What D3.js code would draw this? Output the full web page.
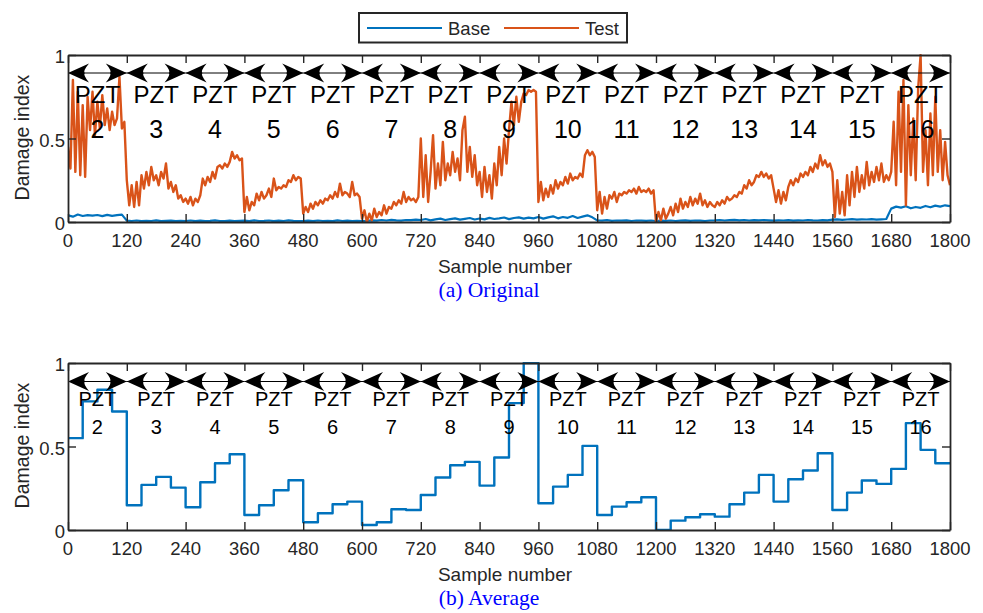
<!DOCTYPE html>
<html>
<head>
<meta charset="utf-8">
<script src="https://cdn.jsdelivr.net/npm/d3@7"></script>
<style>
  html, body { margin: 0; padding: 0; background: #fff; }
  svg { display: block; }
  text { font-family: "Liberation Sans", Arial, Helvetica, sans-serif; }
</style>
</head>
<body>
<svg id="chart" width="983" height="613"></svg>
<script>
// ---- data ----
const sampleTicks = [0, 120, 240, 360, 480, 600, 720, 840, 960, 1080, 1200, 1320, 1440, 1560, 1680, 1800];
const damageTicks = [0, 0.5, 1];
const pztIds = [2, 3, 4, 5, 6, 7, 8, 9, 10, 11, 12, 13, 14, 15, 16];
const segmentSize = 120;

// Test damage index, one reading every 5 samples (0 ... 1800)
const testStep = 5;
const testValues = [
  0.45,0.32,0.85,0.30,0.78,0.28,0.70,0.27,0.75,0.55,0.78,0.52,0.72,0.56,0.76,0.58,0.68,0.55,0.66,0.58,0.62,0.87,0.56,0.60,
  0.25,0.10,0.22,0.09,0.24,0.10,0.28,0.20,0.30,0.22,0.33,0.25,0.28,0.22,0.30,0.26,0.35,0.20,0.24,0.18,0.22,0.14,0.16,0.12,
  0.14,0.11,0.15,0.10,0.14,0.12,0.16,0.26,0.22,0.27,0.24,0.30,0.26,0.33,0.34,0.32,0.35,0.33,0.36,0.42,0.38,0.40,0.37,0.38,
  0.06,0.15,0.07,0.12,0.10,0.17,0.13,0.18,0.14,0.16,0.20,0.15,0.26,0.19,0.21,0.20,0.22,0.21,0.25,0.24,0.28,0.25,0.27,0.26,
  0.05,0.09,0.06,0.11,0.08,0.12,0.10,0.13,0.11,0.14,0.13,0.16,0.14,0.18,0.15,0.23,0.16,0.18,0.17,0.15,0.24,0.16,0.17,0.15,
  0.02,0.07,0.00,0.05,0.01,0.08,0.03,0.06,0.04,0.10,0.05,0.09,0.08,0.12,0.10,0.13,0.11,0.18,0.12,0.15,0.13,0.14,0.12,0.15,
  0.50,0.15,0.40,0.12,0.30,0.52,0.20,0.35,0.22,0.48,0.25,0.35,0.28,0.42,0.30,0.38,0.25,0.55,0.63,0.30,0.45,0.27,0.40,0.22,
  0.30,0.15,0.33,0.18,0.28,0.14,0.35,0.22,0.45,0.28,0.50,0.35,0.55,0.72,0.58,0.75,0.60,0.72,0.77,0.76,0.79,0.78,0.79,0.78,
  0.12,0.24,0.13,0.20,0.15,0.22,0.17,0.25,0.20,0.24,0.22,0.27,0.23,0.29,0.25,0.27,0.26,0.29,0.27,0.40,0.43,0.40,0.42,0.39,
  0.07,0.18,0.05,0.15,0.08,0.16,0.14,0.18,0.12,0.17,0.16,0.18,0.17,0.19,0.18,0.20,0.17,0.21,0.18,0.19,0.18,0.20,0.17,0.19,
  0.00,0.06,0.01,0.08,0.02,0.05,0.09,0.04,0.11,0.06,0.14,0.08,0.12,0.09,0.15,0.10,0.14,0.11,0.17,0.10,0.13,0.09,0.12,0.10,
  0.09,0.12,0.10,0.13,0.11,0.15,0.13,0.14,0.16,0.15,0.18,0.17,0.22,0.20,0.25,0.22,0.24,0.28,0.27,0.30,0.27,0.29,0.26,0.28,
  0.20,0.12,0.19,0.11,0.18,0.13,0.21,0.25,0.22,0.26,0.24,0.29,0.27,0.30,0.28,0.33,0.30,0.35,0.32,0.40,0.34,0.37,0.33,0.35,
  0.30,0.03,0.25,0.05,0.18,0.04,0.28,0.10,0.30,0.15,0.33,0.18,0.28,0.20,0.36,0.22,0.30,0.24,0.33,0.25,0.35,0.24,0.28,0.25,
  0.30,0.60,0.22,0.78,0.30,0.85,0.10,0.70,0.28,0.62,0.25,0.80,1.00,0.30,0.55,0.22,0.65,0.28,0.75,0.30,0.55,0.25,0.48,0.28,
  0.22
];

// Base damage index, one reading every 10 samples (0 ... 1800)
const baseStep = 10;
const baseValues = [
  0.040,0.032,0.045,0.036,0.041,0.038,0.042,0.035,0.043,0.037,0.041,0.044,
  0.008,0.006,0.009,0.005,0.007,0.006,0.010,0.005,0.007,0.008,0.005,0.007,
  0.006,0.009,0.005,0.008,0.006,0.007,0.010,0.006,0.005,0.008,0.006,0.007,
  0.008,0.005,0.010,0.006,0.007,0.009,0.005,0.008,0.006,0.010,0.007,0.006,
  0.006,0.008,0.005,0.009,0.006,0.007,0.005,0.010,0.006,0.008,0.005,0.007,
  0.005,0.007,0.010,0.008,0.012,0.009,0.013,0.010,0.008,0.012,0.011,0.014,
  0.012,0.018,0.010,0.016,0.020,0.012,0.017,0.022,0.014,0.019,0.024,0.015,
  0.021,0.016,0.025,0.018,0.022,0.027,0.017,0.024,0.028,0.020,0.026,0.022,
  0.030,0.020,0.028,0.034,0.022,0.030,0.025,0.036,0.024,0.032,0.040,0.028,
  0.010,0.008,0.011,0.007,0.009,0.008,0.010,0.006,0.009,0.008,0.007,0.009,
  0.006,0.008,0.007,0.009,0.006,0.008,0.010,0.007,0.009,0.008,0.006,0.009,
  0.010,0.012,0.009,0.011,0.013,0.010,0.012,0.009,0.011,0.010,0.012,0.010,
  0.008,0.010,0.009,0.011,0.008,0.010,0.009,0.012,0.010,0.009,0.011,0.010,
  0.014,0.016,0.013,0.015,0.017,0.014,0.016,0.015,0.017,0.014,0.016,0.018,
  0.080,0.092,0.086,0.094,0.082,0.090,0.085,0.096,0.088,0.098,0.092,0.100,0.095
];

// Averaged damage index, one value per block of 30 samples
const avgStep = 30;
const avgValues = [
  0.55, 0.77, 0.84, 0.71,
  0.148, 0.27, 0.318, 0.254,
  0.136, 0.286, 0.40, 0.454,
  0.09, 0.148, 0.238, 0.298,
  0.046, 0.10, 0.154, 0.17,
  0.03, 0.046, 0.124, 0.12,
  0.21, 0.314, 0.388, 0.408,
  0.266, 0.434, 0.76, 1.0,
  0.16, 0.26, 0.33, 0.504,
  0.09, 0.14, 0.166, 0.196,
  0.0, 0.056, 0.076, 0.094,
  0.08, 0.154, 0.224, 0.33,
  0.17, 0.304, 0.356, 0.46,
  0.12, 0.224, 0.296, 0.276,
  0.366, 0.64, 0.48, 0.40
];

// ---- drawing ----
const BLUE = "#0072BD", ORANGE = "#D95319", AXIS = "#262626";
const svg = d3.select("#chart");

const x = d3.scaleLinear().domain([0, 1800]).range([68, 950]);

const testPts = testValues.map((v, i) => [i * testStep, v]);
const basePts = baseValues.map((v, i) => [i * baseStep, v]);
const avgPts = avgValues.map((v, i) => [i * avgStep, v]);
avgPts.push([1800, avgValues[avgValues.length - 1]]);

function drawPanel(cfg) {
  const y = d3.scaleLinear().domain([0, 1]).range([cfg.bottom, cfg.top]);
  const g = svg.append("g");
  const [x0, x1] = x.range();

  const clipId = "clip" + cfg.id;
  svg.append("clipPath").attr("id", clipId)
    .append("rect").attr("x", x0).attr("y", cfg.top - 1)
    .attr("width", x1 - x0).attr("height", cfg.bottom - cfg.top + 2);

  // data lines
  const plot = g.append("g").attr("clip-path", `url(#${clipId})`);
  cfg.series.forEach(s => {
    plot.append("path")
      .attr("d", d3.line().x(d => x(d[0])).y(d => y(d[1])).curve(s.curve || d3.curveLinear)(s.points))
      .attr("fill", "none").attr("stroke", s.color)
      .attr("stroke-width", s.width).attr("stroke-linejoin", "round");
  });

  // double arrows marking each PZT block
  const ay = cfg.arrowY, L = 21, w = 9.4, notch = 0.8 * L;
  const arrows = g.append("g");
  pztIds.forEach((id, i) => {
    const xa = x(i * segmentSize), xb = x((i + 1) * segmentSize);
    arrows.append("line").attr("x1", xa).attr("x2", xb).attr("y1", ay).attr("y2", ay)
      .attr("stroke", "#000").attr("stroke-width", 1);
    arrows.append("path")
      .attr("d", `M${xa},${ay} L${xa + L},${ay - w} Q${xa + notch - 2},${ay - 2} ${xa + notch},${ay} Q${xa + notch - 2},${ay + 2} ${xa + L},${ay + w} Z`)
      .attr("fill", "#000");
    arrows.append("path")
      .attr("d", `M${xb},${ay} L${xb - L},${ay - w} Q${xb - notch + 2},${ay - 2} ${xb - notch},${ay} Q${xb - notch + 2},${ay + 2} ${xb - L},${ay + w} Z`)
      .attr("fill", "#000");
  });

  // PZT labels
  const labels = g.append("g").attr("fill", "#000").attr("text-anchor", "middle");
  pztIds.forEach((id, i) => {
    const cx = x(i * segmentSize + segmentSize / 2);
    labels.append("text").attr("x", cx).attr("y", cfg.pztY)
      .attr("font-size", cfg.pztSize).text("PZT");
    labels.append("text").attr("x", cx).attr("y", cfg.numY)
      .attr("font-size", cfg.numSize).text(id);
  });

  // axes box with inward ticks on all four sides
  const tickLen = 8;
  const axes = g.append("g").attr("fill", "none").attr("stroke", AXIS).attr("stroke-width", 1.6);
  axes.append("g").attr("transform", `translate(0,${cfg.bottom})`)
    .call(d3.axisBottom(x).tickValues(sampleTicks).tickSizeInner(-tickLen).tickSizeOuter(0).tickFormat(""));
  axes.append("g").attr("transform", `translate(0,${cfg.top})`)
    .call(d3.axisTop(x).tickValues(sampleTicks).tickSizeInner(-tickLen).tickSizeOuter(0).tickFormat(""));
  axes.append("g").attr("transform", `translate(${x0},0)`)
    .call(d3.axisLeft(y).tickValues(damageTicks).tickSizeInner(-tickLen).tickSizeOuter(0).tickFormat(""));
  axes.append("g").attr("transform", `translate(${x1},0)`)
    .call(d3.axisRight(y).tickValues(damageTicks).tickSizeInner(-tickLen).tickSizeOuter(0).tickFormat(""));
  axes.selectAll("path.domain").attr("stroke", AXIS).attr("stroke-width", 1.8);
  axes.selectAll(".tick line").attr("stroke", AXIS).attr("stroke-width", 1.4);

  // tick labels
  const tl = g.append("g").attr("fill", AXIS).attr("font-size", 18.5);
  sampleTicks.forEach(t => {
    tl.append("text").attr("x", x(t)).attr("y", cfg.bottom + 25)
      .attr("text-anchor", "middle").text(t);
  });
  damageTicks.forEach(t => {
    tl.append("text").attr("x", x0 - 3).attr("y", y(t) + 8)
      .attr("text-anchor", "end").text(t);
  });

  // axis titles
  g.append("text").attr("x", 505).attr("y", cfg.bottom + 51)
    .attr("text-anchor", "middle").attr("fill", AXIS).attr("font-size", 19)
    .text("Sample number");
  g.append("text")
    .attr("transform", `translate(29,${(cfg.top + cfg.bottom) / 2 - 1}) rotate(-90)`)
    .attr("text-anchor", "middle").attr("fill", AXIS).attr("font-size", 19.5)
    .text("Damage index");

  // caption
  g.append("text").attr("x", 489).attr("y", cfg.bottom + 75)
    .attr("text-anchor", "middle").attr("fill", "#0000ff")
    .style("font-family", "'Liberation Serif', 'Times New Roman', serif")
    .attr("font-size", 21.5).text(cfg.caption);
}

drawPanel({
  id: "a", top: 55, bottom: 222, arrowY: 73,
  pztY: 103, numY: 138, pztSize: 24, numSize: 25,
  caption: "(a) Original",
  series: [
    { points: basePts, color: BLUE, width: 2.2 },
    { points: testPts, color: ORANGE, width: 2.4 }
  ]
});

drawPanel({
  id: "b", top: 363, bottom: 530, arrowY: 381.5,
  pztY: 406, numY: 434, pztSize: 20, numSize: 20,
  caption: "(b) Average",
  series: [
    { points: avgPts, color: BLUE, width: 2.4, curve: d3.curveStepAfter }
  ]
});

// legend
const legend = svg.append("g");
legend.append("rect").attr("x", 359).attr("y", 13).attr("width", 268).attr("height", 29.5)
  .attr("fill", "#fff").attr("stroke", AXIS).attr("stroke-width", 2);
[
  { name: "Base", color: BLUE, x: 367 },
  { name: "Test", color: ORANGE, x: 504 }
].forEach(item => {
  legend.append("line").attr("x1", item.x).attr("x2", item.x + 75).attr("y1", 28).attr("y2", 28)
    .attr("stroke", item.color).attr("stroke-width", 2);
  legend.append("text").attr("x", item.x + 81).attr("y", 34.5)
    .attr("fill", AXIS).attr("font-size", 18.5).text(item.name);
});
</script>
</body>
</html>
